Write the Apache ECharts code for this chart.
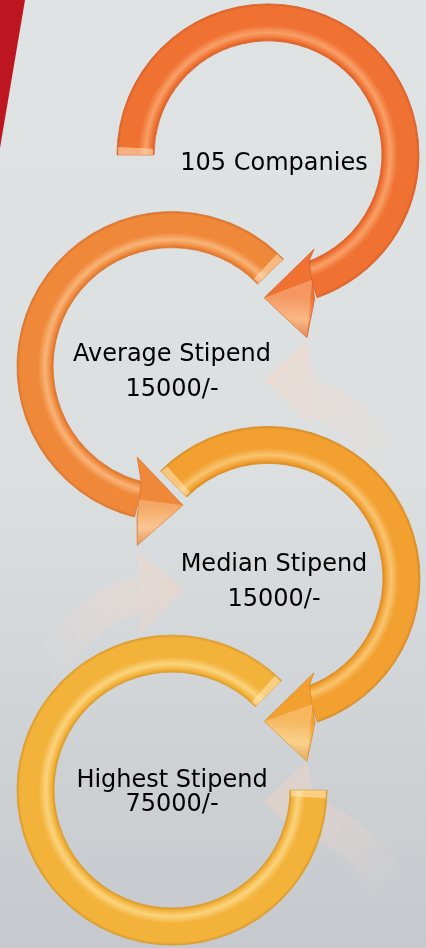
<!DOCTYPE html>
<html><head><meta charset="utf-8">
<script src="https://cdn.jsdelivr.net/npm/echarts@6/dist/echarts.min.js"></script>
<style>html,body{margin:0;padding:0;background:#dfe2e4;overflow:hidden}#c{width:426px;height:948px}</style>
</head><body><div id="c"></div>
<script>
// ---- data ----
const titles = ['Companies', 'Average Stipend', 'Median Stipend', 'Highest Stipend'];
const values = [105, 15000, 15000, 75000];
const units = ['', '/-', '/-', '/-'];
const columns = ['left', 'right'];

// ---- layout / style (not data) ----
const D = Math.PI / 180;
function pol(cx, cy, r, deg) { return [cx + r * Math.cos(deg * D), cy + r * Math.sin(deg * D)]; }
const colOf = i => (i % 2 === 0 ? 1 : 0);

const shapes = [
  {R: 151, r0: 114, a0: 180, a1: 431, caps: [[180, 183]],
   head: [[114, 69], [105, 64], [143, 91.5], [187, 78], [151, 72]],
   refl: {m: 184, a: [22, 71], far: 22}, text: [6, 9], lh: 35},
  {R: 155, r0: 119, a0: 104, a1: 316, caps: [[313, 316]],
   head: [[119, 105], [97, 111], [139, 85.5], [182, 101], [155, 103]],
   refl: {m: 181, a: [104, 156], far: 156}, text: [0, 6], lh: 35},
  {R: 152, r0: 115, a0: 225, a1: 431, caps: [[225, 228]],
   head: [[115, 69], [105, 64], [143, 91.5], [187, 78], [152, 72]],
   refl: {m: 183, a: [22, 71], far: 22}, text: [6, 4], lh: 35},
  {R: 155, r0: 118, a0: 0, a1: 315, caps: [[312, 315], [0, 3]],
   head: null, refl: null, text: [0, 3], lh: 24}
];
const palette = [
  {base: '#F07232', light: '#F8A068', edge: '#D8602A'},
  {base: '#F0883A', light: '#F8B478', edge: '#D8742E'},
  {base: '#F2A030', light: '#F9C470', edge: '#D88C26'},
  {base: '#F3B23A', light: '#FAD47E', edge: '#D99C2C'}
];

function bandFill(cx, cy, R, r0, c) {
  const f = r0 / R, w = 1 - f;
  return {type: 'radial', x: cx, y: cy, r: R, global: true, colorStops: [
    {offset: 0, color: c.base}, {offset: f, color: c.edge},
    {offset: f + w * 0.07, color: c.base}, {offset: f + w * 0.22, color: c.light},
    {offset: f + w * 0.42, color: c.base}, {offset: f + w * 0.92, color: c.base},
    {offset: 1, color: c.edge}]};
}

function renderArrow(params, api) {
  const i = params.dataIndex;
  const p = api.coord([api.value(0), api.value(1)]);
  const cx = p[0], cy = p[1];
  const s = shapes[i], c = palette[i];
  const children = [];
  children.push({type: 'sector', shape: {cx, cy, r: s.R, r0: s.r0, startAngle: s.a0 * D, endAngle: s.a1 * D, clockwise: true},
    style: {fill: bandFill(cx, cy, s.R, s.r0, c), stroke: c.edge, lineWidth: 0.8}});
  s.caps.forEach(cp => {
    children.push({type: 'sector', shape: {cx, cy, r: s.R - 1, r0: s.r0 + 1, startAngle: cp[0] * D, endAngle: cp[1] * D, clockwise: true},
      style: {fill: 'rgba(255,236,200,0.5)'}});
  });
  if (s.head) {
    const pts = s.head.map(h => pol(cx, cy, h[0], h[1]));
    children.push({type: 'polygon', shape: {points: pts},
      style: {fill: {type: 'linear', x: pts[1][0], y: pts[1][1], x2: pts[3][0], y2: pts[3][1], global: true,
        colorStops: [{offset: 0, color: c.base}, {offset: 0.55, color: c.base}, {offset: 0.8, color: c.light}, {offset: 1, color: c.edge}]},
        stroke: c.edge, lineWidth: 0.8}});
    const mid = pol(cx, cy, (s.head[0][0] + s.head[4][0]) / 2, (s.head[0][1] + s.head[4][1]) / 2);
    children.push({type: 'polygon', shape: {points: [pts[2], pts[3], mid]}, style: {fill: 'rgba(255,238,205,0.3)'}});
  }
  const label = i === 0 ? values[i] + ' ' + titles[i] : titles[i] + '\n' + values[i] + units[i];
  children.push({type: 'text', x: cx + s.text[0], y: cy + s.text[1], z2: 10,
    style: {text: label, fill: '#000', fontSize: 24, fontFamily: 'DejaVu Sans', align: 'center', verticalAlign: 'middle', lineHeight: s.lh}});
  return {type: 'group', children};
}

function renderRefl(params, api) {
  const i = params.dataIndex;
  const s = shapes[i];
  if (!s.refl) return {type: 'group', children: []};
  const p = api.coord([api.value(0), api.value(1)]);
  const cx = p[0], cy = p[1];
  const m = cy + s.refl.m;
  const my = y => 2 * m - y;
  const cy2 = my(cy);
  const tip = pol(cx, cy, s.head[2][0], s.head[2][1]);
  const far = pol(cx, cy, (s.R + s.r0) / 2, s.refl.far);
  const fill = {type: 'linear', x: tip[0], y: my(tip[1]), x2: far[0], y2: my(far[1]), global: true,
    colorStops: [{offset: 0, color: 'rgba(248,210,190,0.4)'}, {offset: 0.45, color: 'rgba(248,215,200,0.25)'}, {offset: 1, color: 'rgba(248,220,205,0)'}]};
  const children = [];
  children.push({type: 'sector', shape: {cx, cy: cy2, r: s.R, r0: s.r0, startAngle: -s.refl.a[1] * D, endAngle: -s.refl.a[0] * D, clockwise: true},
    style: {fill}});
  const pts = s.head.map(h => { const q = pol(cx, cy, h[0], h[1]); return [q[0], my(q[1])]; });
  children.push({type: 'polygon', shape: {points: pts}, style: {fill}});
  return {type: 'group', children};
}

const data = titles.map((t, i) => [colOf(i), i]);

const chart = echarts.init(document.getElementById('c'));
chart.setOption({
  animation: false,
  graphic: [
    {type: 'rect', z: 0, silent: true, shape: {x: 0, y: 0, width: 426, height: 948},
      style: {fill: {type: 'linear', x: 0, y: 0, x2: 0, y2: 1, colorStops: [
        {offset: 0, color: '#E0E3E4'}, {offset: 0.5, color: '#DCDFE0'}, {offset: 1, color: '#C6C9CD'}]}}},
    {type: 'polygon', z: 1, silent: true, shape: {points: [[0, 0], [25, 0], [0, 148]]}, style: {fill: '#BD1620'}}
  ],
  grid: {left: 124, right: 110, top: 49, bottom: 52},
  xAxis: {type: 'category', data: columns, show: false},
  yAxis: {type: 'category', data: titles, inverse: true, show: false},
  series: [
    {type: 'custom', z: 3, clip: false, silent: true, data, renderItem: renderRefl},
    {type: 'custom', z: 5, clip: false, silent: true, data, renderItem: renderArrow}
  ]
});
</script></body></html>
